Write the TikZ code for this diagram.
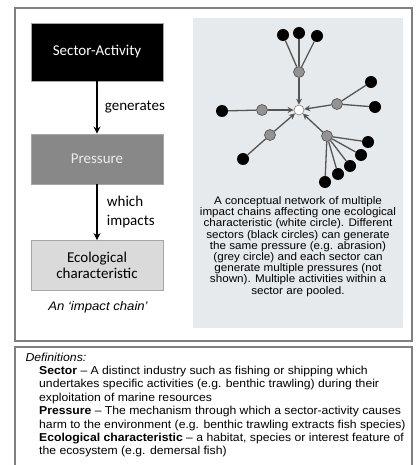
\documentclass[tikz,border=0pt]{standalone}
\usepackage{fontspec}
\setmainfont{Liberation Sans}[FakeStretch=1.06]
\newfontfamily\calfont{Carlito}
\usetikzlibrary{arrows.meta,positioning}

\definecolor{panelgrey}{HTML}{E7EAED}
\definecolor{pressgrey}{HTML}{888888}
\definecolor{ecogrey}{HTML}{DADADA}
\definecolor{edgegrey}{HTML}{555555}

\tikzset{
  chainbox/.style={draw=gray!70, line width=0.8pt, minimum width=132pt,
    minimum height=50pt, font=\calfont\fontsize{15}{15.5}\selectfont},
  sectordot/.style={circle, fill=black, minimum size=12pt, inner sep=0pt},
  pressdot/.style={circle, fill=gray!85, draw=gray!60!black, line width=0.6pt,
    minimum size=11pt, inner sep=0pt},
  ecodot/.style={circle, fill=white, draw=gray, line width=0.6pt,
    minimum size=10pt, inner sep=0pt},
  link/.style={draw=edgegrey, line width=1.3pt},
  impact/.style={link, -{Stealth[length=6pt, width=6pt]}}
}

\begin{document}
\begin{tikzpicture}[x=1pt, y=-1pt]
  \useasboundingbox (0,0) rectangle (419,465);

  % Frames
  \draw[gray, line width=1.2pt] (15,8) rectangle (412,341);
  \draw[gray, line width=1.2pt] (15,347) rectangle (412,480);
  \fill[panelgrey] (193,18) rectangle (403,328);

  % Impact chain
  \node[chainbox, fill=black, text=white, minimum height=58pt] (sa) at (97,52) {Sector-Activity};
  \node[chainbox, fill=pressgrey, text=gray!15] (pr) at (97,159) {Pressure};
  \node[chainbox, fill=ecogrey, align=center] (ec) at (97,265.5) {Ecological\\characteristic};

  \draw[-{Stealth[length=7pt, width=7pt]}, line width=1.2pt] (sa) -- node[right=4pt, font=\calfont\fontsize{15}{15}\selectfont] {generates} (pr);
  \draw[-{Stealth[length=7pt, width=7pt]}, line width=1.2pt] (pr) -- node[right=6pt, align=left, font=\calfont\fontsize{15}{19}\selectfont] {which\\impacts} (ec);

  \node[font=\itshape\fontsize{12.4}{14}\selectfont] (cap) at (98,307) {An `impact chain'};

  % Network
  \node[ecodot] (c) at (299,110) {};
  \node[pressdot] (g1) at (299,72) {};
  \node[pressdot] (g2) at (337,104) {};
  \node[pressdot] (g3) at (262,110) {};
  \node[pressdot] (g4) at (270,135) {};
  \node[pressdot] (g5) at (327,136) {};

  \foreach \x/\y [count=\i] in {283/35, 299/33, 317/36}
    \node[sectordot] (s1\i) at (\x,\y) {};
  \foreach \x/\y [count=\i] in {371/82, 375/107}
    \node[sectordot] (s2\i) at (\x,\y) {};
  \node[sectordot] (s31) at (222,111) {};
  \node[sectordot] (s41) at (243,159) {};
  \foreach \x/\y [count=\i] in {368/142, 361/155, 350/166, 338/174, 325/182}
    \node[sectordot] (s5\i) at (\x,\y) {};

  \foreach \i in {1,2,3}
    \draw[link] (s1\i) -- (g1);
  \foreach \i in {1,2}
    \draw[link] (s2\i) -- (g2);
  \draw[link] (s31) -- (g3);
  \draw[link] (s41) -- (g4);
  \foreach \i in {1,...,5}
    \draw[link] (s5\i) -- (g5);

  \foreach \g in {g1,g2,g3,g4,g5}
    \draw[impact] (\g) -- (c);

  \node[align=center, font=\fontsize{11}{11.2}\selectfont] (note) at (298,246.5)
    {A conceptual network of multiple\\impact chains affecting one ecological\\characteristic (white circle). Different\\sectors (black circles) can generate\\the same pressure (e.g. abrasion)\\(grey circle) and each sector can\\generate multiple pressures (not\\shown). Multiple activities within a\\sector are pooled.};

  % Definitions
  \node[anchor=west, font=\itshape\fontsize{11.6}{13.4}\selectfont] (deftitle) at (22,357) {Definitions:};
  \node[anchor=north west, inner sep=0pt, align=left, font=\fontsize{11.5}{13.4}\selectfont] (deflist) at (39,366)
    {\textbf{Sector} -- A distinct industry such as fishing or shipping which\\
     undertakes specific activities (e.g. benthic trawling) during their\\
     exploitation of marine resources\\
     \textbf{Pressure} -- The mechanism through which a sector-activity causes\\
     harm to the environment (e.g. benthic trawling extracts fish species)\\
     \textbf{Ecological characteristic} -- a habitat, species or interest feature of\\
     the ecosystem (e.g. demersal fish)};
\end{tikzpicture}
\end{document}
